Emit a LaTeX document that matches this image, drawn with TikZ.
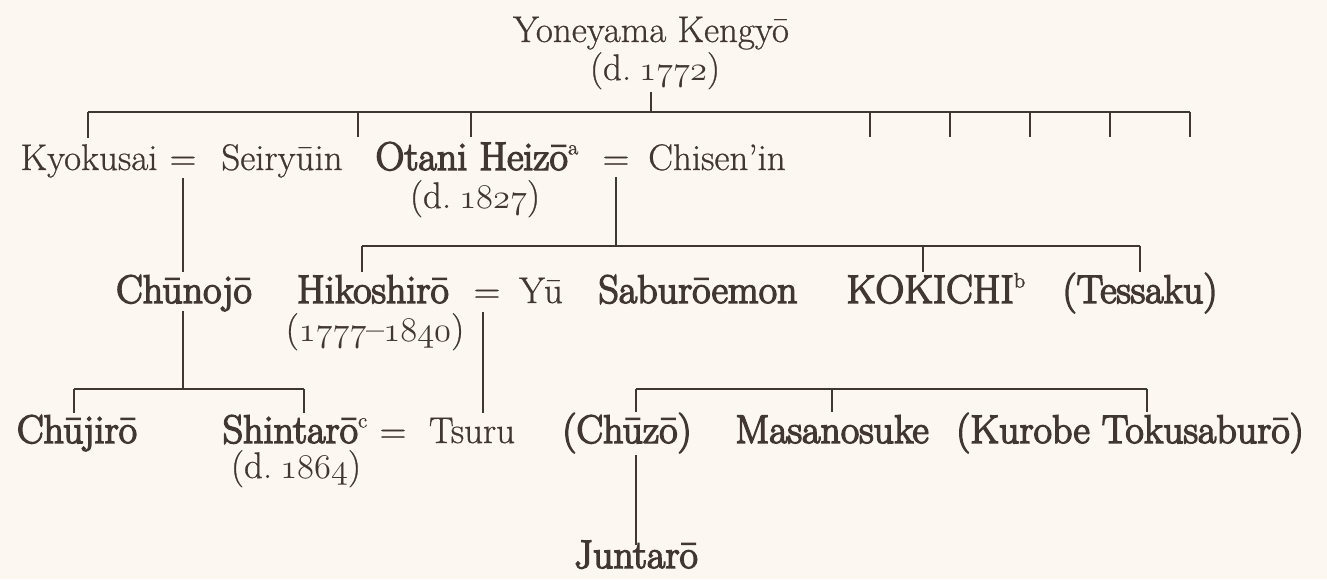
\documentclass[tikz,border=0pt]{standalone}
\usepackage{xcolor}
\usepackage{fontspec}
\newfontfamily\rfam{Latin Modern Roman}[Ligatures=TeX,FakeBold=0.7]
\newfontfamily\bfam{Latin Modern Roman}[Ligatures=TeX,FakeBold=3.6]
\newcommand\osn[1]{{\usefont{OML}{cmm}{m}{it}#1}}
\newcommand\sups[1]{\raisebox{0.9ex}{\rfam\fontsize{10.5}{11}\selectfont #1}}
\definecolor{bg}{RGB}{253,247,242}
\definecolor{ink}{RGB}{64,54,50}
\begin{document}
\begin{tikzpicture}[x=0.5pt,y=-0.5pt,
  reg/.style={anchor=base,inner sep=1pt,text=ink,font=\rfam\fontsize{18.5}{21}\selectfont},
  bld/.style={anchor=base,inner sep=1pt,text=ink,font=\bfam\fontsize{20}{22}\selectfont},
  ln/.style={draw=ink,line width=1.4pt}]
\fill[bg] (0,0) rectangle (1327,579);
\useasboundingbox (0,0) rectangle (1327,579);
% row 0
\node[reg] (yon) at (651,42) {Yoneyama Kengyō};
\node[reg] (yond) at (655,80) {(d.\hspace{0.22em}\osn{1772})};
% row 1
\node[reg] (kyo) at (89,170) {Kyokusai};
\node[reg] (eqA) at (183,170) {=};
\node[reg] (sei) at (282,170) {Seiryūin};
\node[bld] (ota) at (477,170) {Otani Heizō\sups{a}};
\node[reg] (eqB) at (616,170) {=};
\node[reg] (chi) at (717,170) {Chisen'in};
\node[reg] (otad) at (475,208) {(d.\hspace{0.22em}\osn{1827})};
% row 2
\node[bld] (chu) at (184,303) {Chūnojō};
\node[bld] (hik) at (373,303) {Hikoshirō};
\node[reg] (eqC) at (487,303) {=};
\node[reg] (yu) at (541,303) {Yū};
\node[bld] (sab) at (698,303) {Saburōemon};
\node[bld] (kok) at (936,303) {KOKICHI\sups{b}};
\node[bld] (tes) at (1140,303) {(Tessaku)};
\node[reg] (hikd) at (375,341) {(\osn{1777}--\osn{1840})};
% row 3
\node[bld] (chj) at (77,443) {Chūjirō};
\node[bld] (shi) at (295,443) {Shintarō\sups{c}};
\node[reg] (eqD) at (393,443) {=};
\node[reg] (tsu) at (472,443) {Tsuru};
\node[bld] (chz) at (627,443) {(Chūzō)};
\node[bld] (mas) at (832,443) {Masanosuke};
\node[bld] (kur) at (1130,443) {(Kurobe Tokusaburō)};
\node[reg] (shid) at (296,478) {(d.\hspace{0.22em}\osn{1864})};
% row 4
\node[bld] (jun) at (636,568) {Juntarō};
% coordinates
\coordinate (b0) at (651,112);
\coordinate (b0L) at (88,112);
\coordinate (b0R) at (1190,112);
\coordinate (b1) at (616,246);
\coordinate (b1L) at (362,246);
\coordinate (b1R) at (1140,246);
\coordinate (b2) at (183,389);
\coordinate (b2L) at (74,389);
\coordinate (b2R) at (304,389);
\coordinate (b3L) at (636,389);
\coordinate (b3R) at (1147,389);
% connectors
\draw[ln] (651,92) -- (b0);
\draw[ln] (b0L) -- (b0R);
\draw[ln] (b0L) -- (88,138);
\foreach \x in {358,471,870,950,1030,1110,1190} \draw[ln] (\x,112) -- (\x,137);
\draw[ln] (183,178) -- (183,272);
\draw[ln] (183,311) -- (b2);
\draw[ln] (b2L) -- (b2R);
\draw[ln] (b2L) -- (74,413);
\draw[ln] (b2R) -- (304,413);
\draw[ln] (616,177) -- (b1);
\draw[ln] (b1L) -- (b1R);
\foreach \x in {362,923,1140} \draw[ln] (\x,246) -- (\x,272);
\draw[ln] (483,312) -- (483,413);
\draw[ln] (b3L) -- (b3R);
\foreach \x in {636,832,1147} \draw[ln] (\x,389) -- (\x,412);
\draw[ln] (636,455) -- (636,545);
\end{tikzpicture}
\end{document}
